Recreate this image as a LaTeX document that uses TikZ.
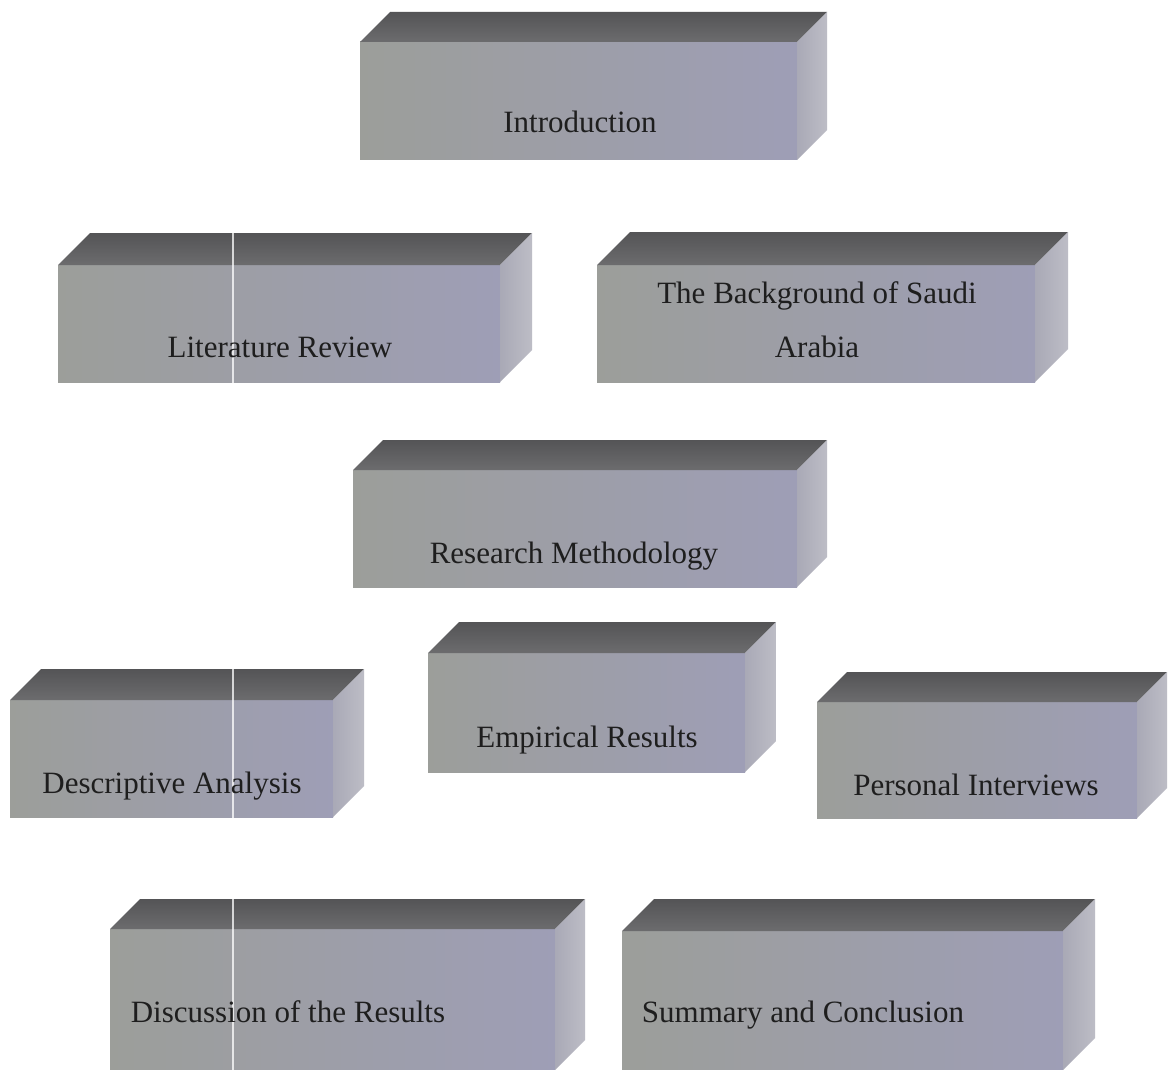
\documentclass[tikz,border=0pt]{standalone}
\usepackage{fontspec}
\setmainfont{Liberation Serif}
\usetikzlibrary{calc}
\definecolor{txt}{HTML}{1E1E1E}
\definecolor{frontL}{HTML}{9C9E9A}
\definecolor{frontM}{HTML}{A2A48F}
\definecolor{frontR}{HTML}{9E9EB6}
\definecolor{topB}{HTML}{545456}
\definecolor{topF}{HTML}{6C6C6E}
\definecolor{sideL}{HTML}{A9A9B6}
\definecolor{sideR}{HTML}{BDBDC6}
\tikzset{
  frontface/.style={rectangle, inner sep=0pt, outer sep=0pt,
    left color=frontL, middle color=frontM, right color=frontR},
  topface/.style={top color=topB, bottom color=topF},
  sideface/.style={left color=sideL, right color=sideR},
  label/.style={anchor=base, inner sep=0pt, text=txt,
    font=\fontsize{31}{37}\selectfont},
}
\newcommand\cub[6]{%
  \node[frontface, anchor=north west,
        minimum width={(#4-#2)*1pt}, minimum height={(#5-#3)*1pt}] (#1) at (#2,#3) {};
  \path[topface] (#1.north west) -- ++(#6,-#6) -- ($(#1.north east)+(#6,-#6)$)
        -- (#1.north east) -- cycle;
  \path[sideface] (#1.north east) -- ++(#6,-#6) -- ($(#1.south east)+(#6,-#6)$)
        -- (#1.south east) -- cycle;
}
\begin{document}
\begin{tikzpicture}[x=1pt, y=-1pt]
\fill[white] (0,0) rectangle (1168,1070);
\useasboundingbox (0,0) rectangle (1168,1070);
\cub{intro}{360}{42}{797}{160}{30}
\cub{lit}{58}{265}{500}{382}{32}
\cub{bkg}{597}{265}{1035}{382}{33}
\cub{res}{353}{470}{797}{587}{30}
\cub{desc}{10}{700}{333}{817}{31}
\cub{emp}{428}{653}{745}{772}{31}
\cub{pers}{817}{702}{1137}{818}{30}
\cub{disc}{110}{929}{555}{1070}{30}
\cub{summ}{622}{931}{1063}{1070}{32}
\draw[white, opacity=.75, line width=1.3pt] (233,230) -- (233,1070);
\node[label] (introT) at (580,133) {Introduction};
\node[label] (litT) at (280,357) {Literature Review};
\node[label] (bkgT1) at (817,303) {The Background of Saudi};
\node[label] (bkgT2) at (817,357) {Arabia};
\node[label] (resT) at (574,563) {Research Methodology};
\node[label] (descT) at (172,793) {Descriptive Analysis};
\node[label] (empT) at (587,747) {Empirical Results};
\node[label] (persT) at (976,795) {Personal Interviews};
\node[label] (discT) at (288,1022) {Discussion of the Results};
\node[label] (summT) at (803,1022) {Summary and Conclusion};
\end{tikzpicture}
\end{document}
